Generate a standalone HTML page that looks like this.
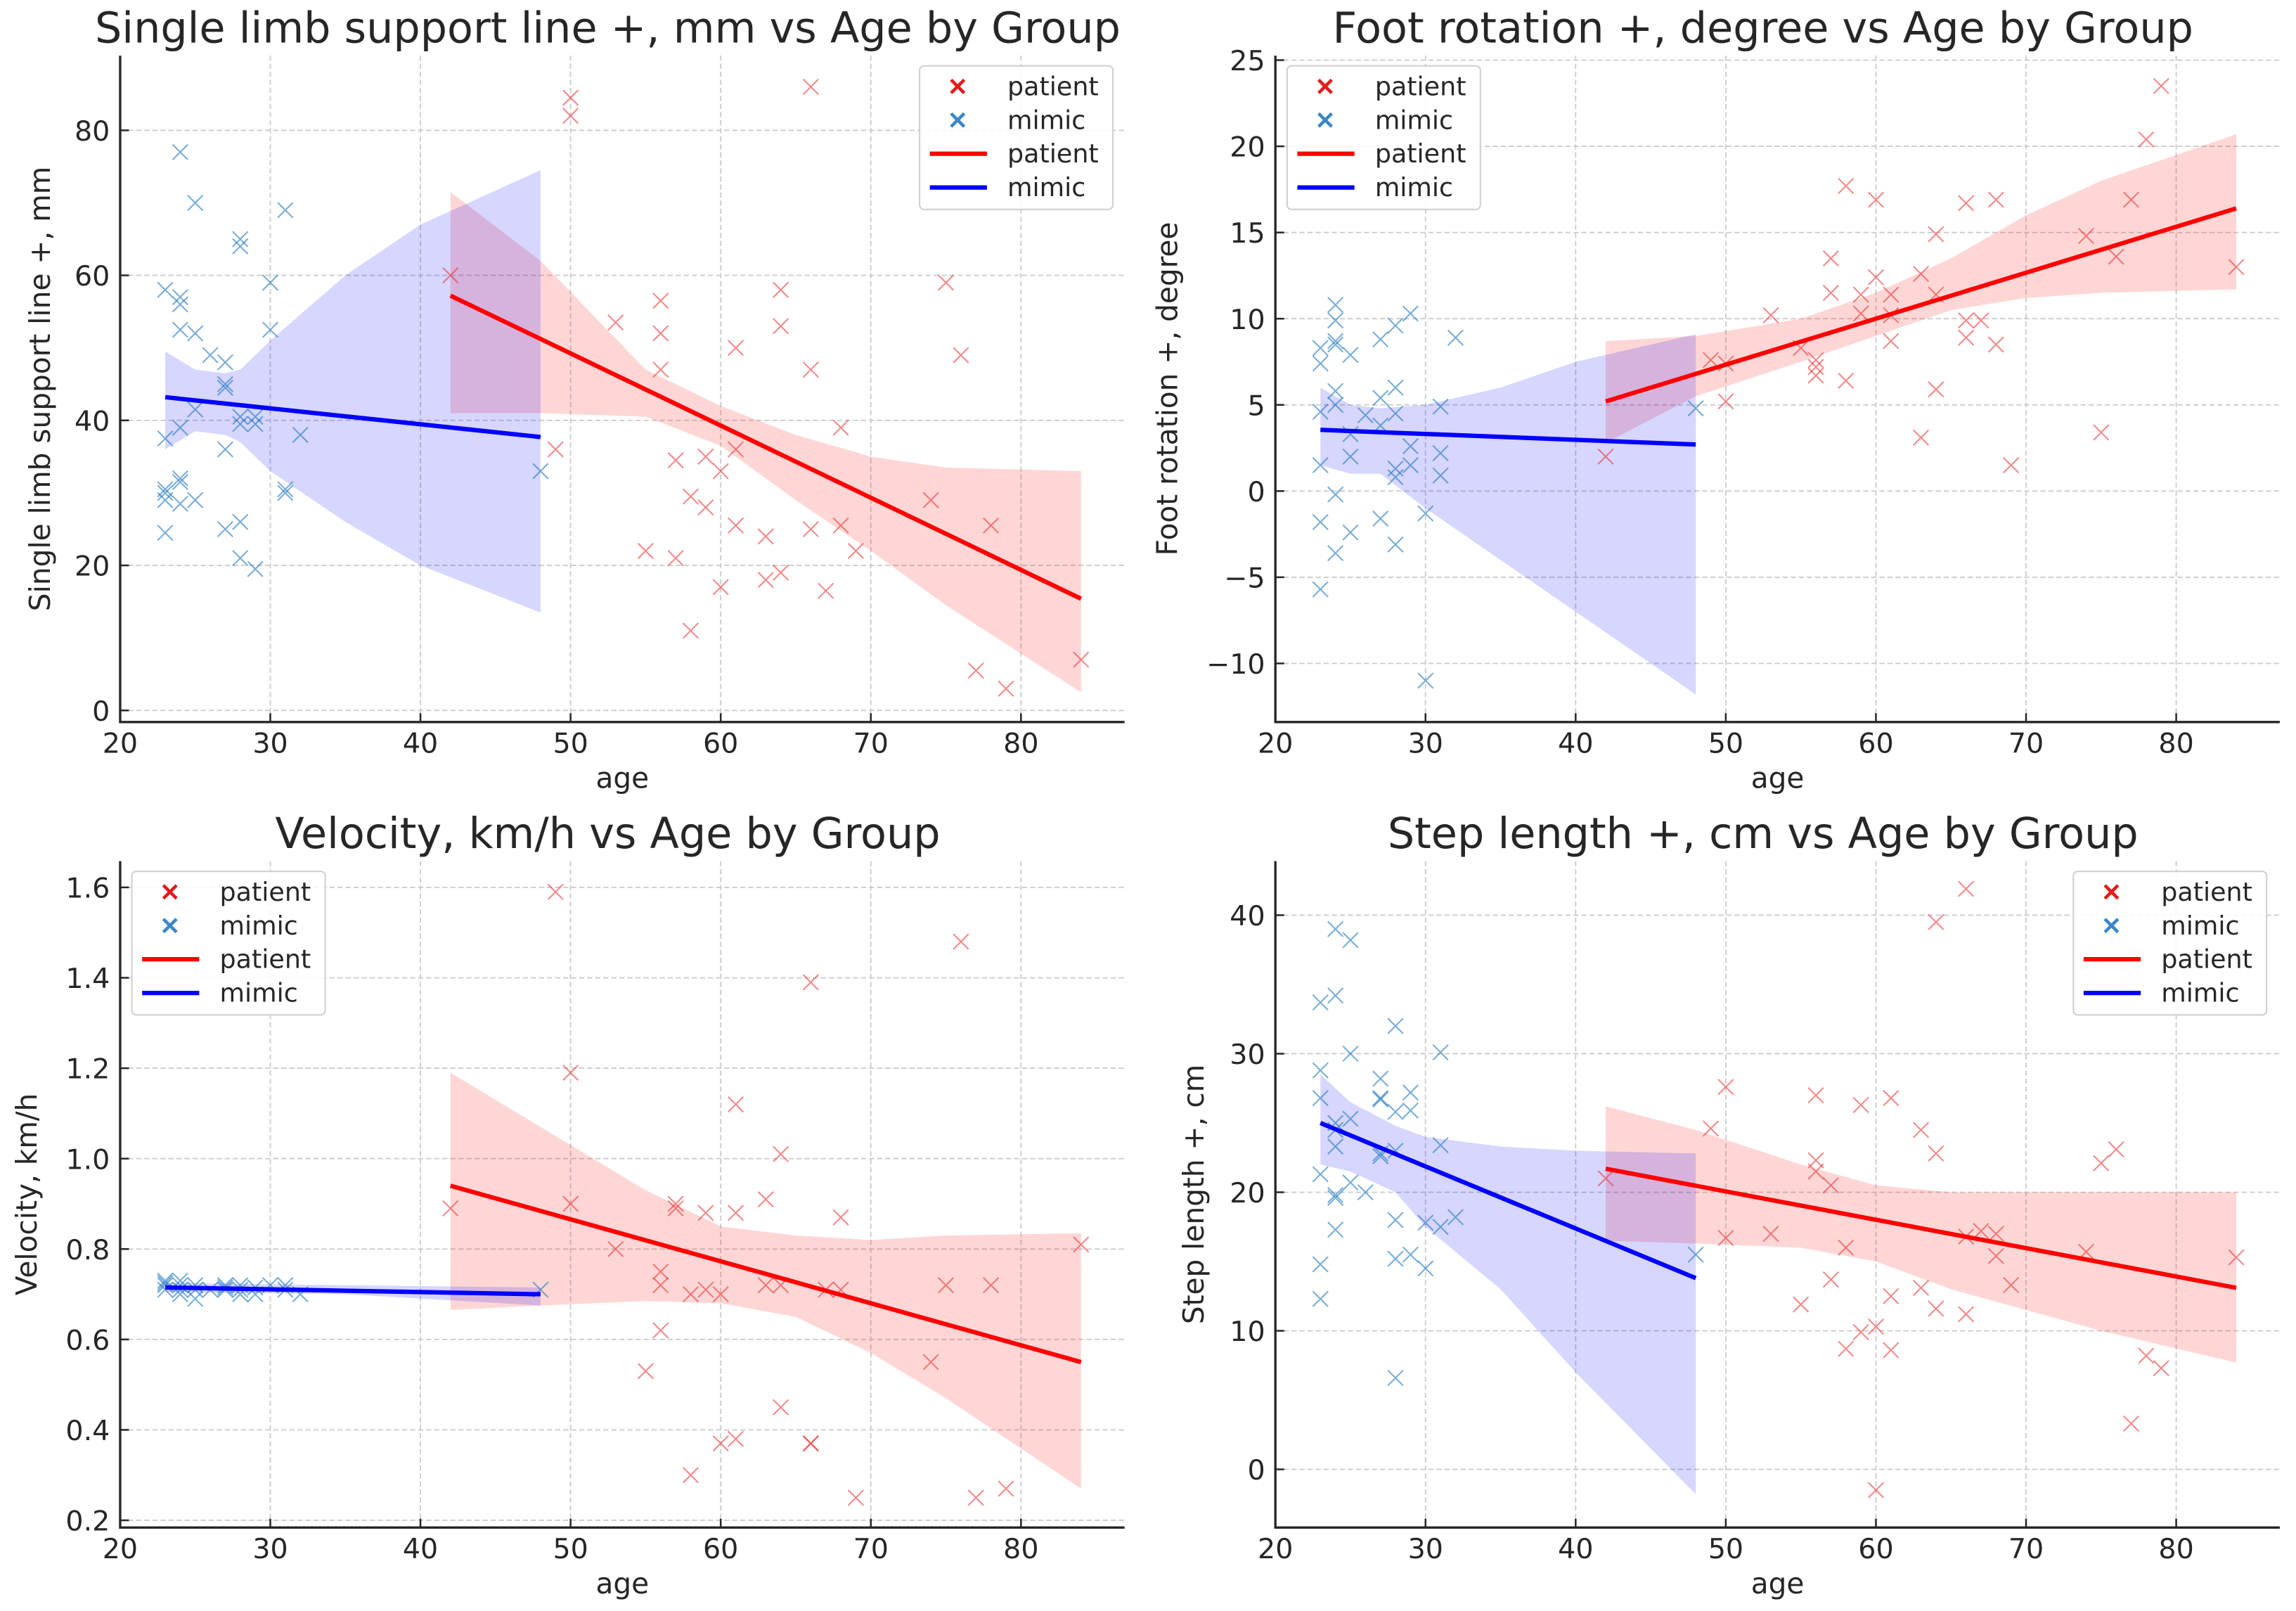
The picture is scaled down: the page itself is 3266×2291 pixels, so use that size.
<!DOCTYPE html>
<html><head><meta charset="utf-8"><style>
html,body{margin:0;padding:0;background:#fff}
svg{display:block}
text{font-family:"DejaVu Sans","Liberation Sans",sans-serif;fill:#262626}
</style></head><body>
<svg id="fig" width="3266" height="2291" viewBox="0 0 1568 1100" xmlns="http://www.w3.org/2000/svg"></svg>
<script>
// ---- Panel 1: Single limb support ----
const p1MimicAge=[23,23,23,23,23,23,24,24,24,24,24,24,24,24,25,25,25,25,26,27,27,27,27,27,28,28,28,28,28,28,29,29,29,30,30,31,31,31,32,48];
const p1MimicVal=[58,37.5,30.5,30,29,24.5,77,57,56,52.5,39,32,31.5,28.5,70,52,41.5,29,49,48,45,44.5,36,25,65,64,40.5,39.5,26,21,40.5,39.5,19.5,59,52.5,69,30.5,30,38,33];
const p1PatAge=[42,49,50,50,53,55,56,56,56,57,57,58,58,59,59,60,60,61,61,61,63,63,64,64,64,66,66,66,67,68,68,69,74,75,76,77,78,79,84];
const p1PatVal=[60,36,84.5,82,53.5,22,56.5,52,47,34.5,21,29.5,11,35,28,33,17,50,36,25.5,24,18,58,53,19,86,47,25,16.5,39,25.5,22,29,59,49,5.5,25.5,3,7];
const p1MimicFit=[[23,43.2],[48,37.7]];
const p1PatFit=[[42,57.2],[84,15.4]];
const p1MimicBandX=[23,25,27,28,30,35,40,48];
const p1MimicBandHi=[49.5,47,46.5,47,51,60,67,74.5];
const p1MimicBandLo=[36,38.5,38,37,33,26,20,13.5];
const p1PatBandX=[42,48,55,60,65,70,75,84];
const p1PatBandHi=[71.5,62,47,42,38,35,33.5,33];
const p1PatBandLo=[41,41,40.5,36.5,29,22,14.5,2.5];
const p1YTicks=[0,20,40,60,80];

// ---- Panel 2: Foot rotation ----
const p2MimicAge=[23,23,23,23,23,23,24,24,24,24,24,24,24,24,25,25,25,25,26,27,27,27,27,28,28,28,28,28,28,29,29,29,30,30,31,31,31,32,48];
const p2MimicVal=[8.3,7.4,4.6,1.5,-1.8,-5.7,10.8,9.9,8.7,8.5,5.8,5,-0.2,-3.6,7.9,3.3,2,-2.4,4.4,8.8,5.4,3.8,-1.6,9.6,6,4.5,1.3,0.8,-3.1,10.3,2.6,1.5,-1.3,-11,4.9,2.2,0.9,8.9,4.8];
const p2PatAge=[42,49,50,50,53,55,56,56,56,57,57,58,58,59,59,60,60,61,61,61,63,63,64,64,64,66,66,66,67,68,68,69,74,75,76,77,78,79,84];
const p2PatVal=[2,7.6,7.4,5.2,10.2,8.3,7.6,7.2,6.7,13.5,11.5,17.7,6.4,11.4,10.3,16.9,12.4,11.4,10.2,8.7,12.6,3.1,14.9,11.4,5.9,16.7,9.9,8.9,9.9,16.9,8.5,1.5,14.8,3.4,13.6,16.9,20.4,23.5,13];
const p2MimicFit=[[23,3.55],[48,2.7]];
const p2PatFit=[[42,5.2],[84,16.4]];
const p2MimicBandX=[23,25,27,30,35,40,48];
const p2MimicBandHi=[6,5,4.8,5,6,7.5,9.1];
const p2MimicBandLo=[1.5,1,1,-1,-4,-7,-11.8];
const p2PatBandX=[42,48,55,60,65,70,75,84];
const p2PatBandHi=[8.7,9,10,11.5,13.5,16,18,20.7];
const p2PatBandLo=[2.8,5.5,7.5,9,10.5,11.2,11.5,11.7];
const p2YTicks=[-10,-5,0,5,10,15,20,25];
const p2YLabels=["\u221210","\u22125","0","5","10","15","20","25"];

// ---- Panel 3: Velocity ----
const p3MimicAge=[23,23,23,23,24,24,24,24,25,25,25,26,27,27,27,28,28,28,29,29,30,31,31,32,48];
const p3MimicVal=[0.73,0.72,0.71,0.725,0.73,0.72,0.71,0.70,0.72,0.69,0.71,0.71,0.72,0.71,0.715,0.72,0.71,0.70,0.715,0.70,0.72,0.72,0.71,0.70,0.71];
const p3PatAge=[42,49,50,50,53,55,56,56,56,57,57,58,58,59,59,60,60,61,61,61,63,63,64,64,64,66,66,66,67,68,68,69,74,75,76,77,78,79,84];
const p3PatVal=[0.89,1.59,1.19,0.90,0.80,0.53,0.75,0.72,0.62,0.90,0.89,0.70,0.30,0.88,0.71,0.70,0.37,1.12,0.88,0.38,0.91,0.72,1.01,0.72,0.45,1.39,0.37,0.37,0.71,0.87,0.71,0.25,0.55,0.72,1.48,0.25,0.72,0.27,0.81];
const p3MimicFit=[[23,0.715],[48,0.70]];
const p3PatFit=[[42,0.94],[84,0.55]];
const p3MimicBandX=[23,35,48];
const p3MimicBandHi=[0.725,0.72,0.715];
const p3MimicBandLo=[0.705,0.70,0.675];
const p3PatBandX=[42,48,55,60,65,70,75,84];
const p3PatBandHi=[1.19,1.07,0.93,0.85,0.83,0.82,0.83,0.835];
const p3PatBandLo=[0.665,0.675,0.685,0.68,0.65,0.57,0.47,0.27];
const p3YTicks=[0.2,0.4,0.6,0.8,1.0,1.2,1.4,1.6];
const p3YLabels=["0.2","0.4","0.6","0.8","1.0","1.2","1.4","1.6"];

// ---- Panel 4: Step length ----
const p4MimicAge=[23,23,23,23,23,23,24,24,24,24,24,24,24,24,25,25,25,25,26,27,27,27,27,27,28,28,28,28,28,28,29,29,29,30,30,31,31,31,32,48];
const p4MimicVal=[33.7,28.8,26.8,21.3,14.8,12.3,39,34.2,25,24.5,23.3,19.8,19.6,17.3,38.2,30,25.3,20.7,20,28.2,26.7,26.8,22.8,22.6,32,25.8,23,18,15.2,6.6,27.2,25.9,15.5,17.8,14.5,30.1,23.4,17.5,18.2,15.5];
const p4PatAge=[42,49,50,50,53,55,56,56,56,57,57,58,58,59,59,60,60,61,61,61,63,63,64,64,64,66,66,66,67,68,68,69,74,75,76,77,78,79,84];
const p4PatVal=[21,24.6,27.6,16.7,17,11.9,27,22.3,21.5,20.5,13.7,16,8.7,26.3,9.9,10.3,-1.5,26.8,12.5,8.6,24.5,13.1,39.5,22.8,11.6,41.9,16.8,11.2,17.2,17,15.4,13.3,15.7,22.1,23.1,3.3,8.2,7.3,15.3];
const p4MimicFit=[[23,25],[48,13.8]];
const p4PatFit=[[42,21.7],[84,13.1]];
const p4MimicBandX=[23,25,28,30,35,40,48];
const p4MimicBandHi=[28.5,26.5,24.8,24,23.3,23,22.8];
const p4MimicBandLo=[22,21.5,20,17.5,13,7,-1.8];
const p4PatBandX=[42,48,55,60,65,70,75,84];
const p4PatBandHi=[26.2,24.5,22,20.5,20,20,20,20];
const p4PatBandLo=[16.5,16.3,16,15,13,11.5,10,7.7];
const p4YTicks=[0,10,20,30,40];

const xTicks=[20,30,40,50,60,70,80];

const NS="http://www.w3.org/2000/svg";
const svg=document.getElementById('fig');
function mk(tag,parent){const e=document.createElementNS(NS,tag);parent.appendChild(e);return e;}

function panel(cfg){
  const g=mk('g',svg);
  
  
  const L=cfg.L,R=cfg.R,T=cfg.T,B=cfg.B;
  const sx=v=>L+(v-20)*(R-L)/(86.9-20);
  const sy=v=>B-(v-cfg.ymin)*(B-T)/(cfg.ymax-cfg.ymin);
  const grid=mk('g',g);
  
  
  xTicks.forEach(t=>{const l=mk('line',grid);l.setAttribute('x1',sx(t));l.setAttribute('x2',sx(t));l.setAttribute('y1',T);l.setAttribute('y2',B);l.setAttribute('stroke','#cccccc');l.setAttribute('stroke-width','0.9');l.setAttribute('stroke-dasharray','3.5,2');});
  cfg.yt.forEach(t=>{const l=mk('line',grid);l.setAttribute('x1',L);l.setAttribute('x2',R);l.setAttribute('y1',sy(t));l.setAttribute('y2',sy(t));l.setAttribute('stroke','#cccccc');l.setAttribute('stroke-width','0.9');l.setAttribute('stroke-dasharray','3.5,2');});
  function band(xs,hi,lo,col,nm){
    let d='M'+xs.map((x,i)=>sx(x)+','+sy(hi[i])).join(' L');
    for(let i=xs.length-1;i>=0;i--) d+=' L'+sx(xs[i])+','+sy(lo[i]);
    const p=mk('path',g);p.setAttribute('d',d+' Z');p.setAttribute('fill',col);
    
    
  }
  band(cfg.pbx,cfg.pbh,cfg.pbl,'rgba(255,0,0,0.16)','patient-ci-band');
  band(cfg.mbx,cfg.mbh,cfg.mbl,'rgba(0,0,255,0.16)','mimic-ci-band');
  function pts(ax,vals,col,nm){
    const pg=mk('g',g);
    
    
    ax.forEach((a,i)=>{const x=sx(a),y=sy(vals[i]),s=5.2;
      const p=mk('path',pg);p.setAttribute('d',`M${x-s},${y-s} L${x+s},${y+s} M${x-s},${y+s} L${x+s},${y-s}`);
      p.setAttribute('stroke',col);p.setAttribute('stroke-width','1');p.setAttribute('fill','none');
      
      });
  }
  pts(cfg.ma,cfg.mv,'rgba(31,119,190,0.6)','mimic-points');
  pts(cfg.pa,cfg.pv,'rgba(235,40,40,0.55)','patient-points');
  function fit(f,col,nm){const l=mk('line',g);l.setAttribute('x1',sx(f[0][0]));l.setAttribute('y1',sy(f[0][1]));l.setAttribute('x2',sx(f[1][0]));l.setAttribute('y2',sy(f[1][1]));l.setAttribute('stroke',col);l.setAttribute('stroke-width','3');
    
    }
  fit(cfg.pf,'#ff0000','patient-fit-line');
  fit(cfg.mf,'#0000ff','mimic-fit-line');
  const ax=mk('path',g);ax.setAttribute('d',`M${L},${T} L${L},${B} L${R},${B}`);ax.setAttribute('stroke','#262626');ax.setAttribute('stroke-width','1.6');ax.setAttribute('fill','none');
  
  
  xTicks.forEach(t=>{const l=mk('line',g);l.setAttribute('x1',sx(t));l.setAttribute('x2',sx(t));l.setAttribute('y1',B);l.setAttribute('y2',B-6);l.setAttribute('stroke','#262626');l.setAttribute('stroke-width','1.2');
    const tx=mk('text',g);tx.setAttribute('x',sx(t));tx.setAttribute('y',B+21);tx.setAttribute('text-anchor','middle');tx.setAttribute('font-size','19');tx.textContent=t;
    
    });
  cfg.yt.forEach((t,i)=>{const l=mk('line',g);l.setAttribute('x1',L);l.setAttribute('x2',L+6);l.setAttribute('y1',sy(t));l.setAttribute('y2',sy(t));l.setAttribute('stroke','#262626');l.setAttribute('stroke-width','1.2');
    const tx=mk('text',g);tx.setAttribute('x',L-7);tx.setAttribute('y',sy(t)+7);tx.setAttribute('text-anchor','end');tx.setAttribute('font-size','19');tx.textContent=cfg.yl?cfg.yl[i]:t;
    
    });
  const xl=mk('text',g);xl.setAttribute('x',(L+R)/2);xl.setAttribute('y',B+45);xl.setAttribute('text-anchor','middle');xl.setAttribute('font-size','19.5');xl.textContent='age';
  
  
  const yl=mk('text',g);yl.setAttribute('transform',`translate(${cfg.ylx},${(T+B)/2}) rotate(-90)`);yl.setAttribute('text-anchor','middle');yl.setAttribute('font-size','19.5');yl.textContent=cfg.ytitle;
  
  
  const tt=mk('text',g);tt.setAttribute('x',(L+R)/2-10);tt.setAttribute('y',T-9);tt.setAttribute('text-anchor','middle');tt.setAttribute('font-size','29');tt.textContent=cfg.title;
  
  
  const lg=mk('g',g);
  
  
  const bx=cfg.lx,by=T+7;
  const r=mk('rect',lg);r.setAttribute('x',bx);r.setAttribute('y',by);r.setAttribute('width',132);r.setAttribute('height',98);r.setAttribute('rx',3);r.setAttribute('fill','rgba(255,255,255,0.85)');r.setAttribute('stroke','#d0d0d0');r.setAttribute('stroke-width','1');
  const entries=[['x','#e31a1c','patient'],['x','#3a87c8','mimic'],['l','#ff0000','patient'],['l','#0000ff','mimic']];
  entries.forEach((e,i)=>{const y=by+14+i*23;
    if(e[0]=='x'){const p=mk('path',lg);const x=bx+26,s=4.5;p.setAttribute('d',`M${x-s},${y-s} L${x+s},${y+s} M${x-s},${y+s} L${x+s},${y-s}`);p.setAttribute('stroke',e[1]);p.setAttribute('stroke-width','2.2');}
    else{const l=mk('line',lg);l.setAttribute('x1',bx+7);l.setAttribute('x2',bx+46);l.setAttribute('y1',y);l.setAttribute('y2',y);l.setAttribute('stroke',e[1]);l.setAttribute('stroke-width','3');}
    const t=mk('text',lg);t.setAttribute('x',bx+60);t.setAttribute('y',y+6);t.setAttribute('font-size','17.5');t.textContent=e[2];
    
    });
}

panel({name:'panel-single-limb-support',L:82,R:768,T:38,B:493,ymin:-1.6,ymax:90.3,yt:p1YTicks,
  ma:p1MimicAge,mv:p1MimicVal,pa:p1PatAge,pv:p1PatVal,mf:p1MimicFit,pf:p1PatFit,
  mbx:p1MimicBandX,mbh:p1MimicBandHi,mbl:p1MimicBandLo,pbx:p1PatBandX,pbh:p1PatBandHi,pbl:p1PatBandLo,
  ylx:34,ytitle:'Single limb support line +, mm',title:'Single limb support line +, mm vs Age by Group',lx:628});
panel({name:'panel-foot-rotation',L:871,R:1557,T:38,B:493,ymin:-13.4,ymax:25.26,yt:p2YTicks,yl:p2YLabels,
  ma:p2MimicAge,mv:p2MimicVal,pa:p2PatAge,pv:p2PatVal,mf:p2MimicFit,pf:p2PatFit,
  mbx:p2MimicBandX,mbh:p2MimicBandHi,mbl:p2MimicBandLo,pbx:p2PatBandX,pbh:p2PatBandHi,pbl:p2PatBandLo,
  ylx:804,ytitle:'Foot rotation +, degree',title:'Foot rotation +, degree vs Age by Group',lx:879});
panel({name:'panel-velocity',L:82,R:768,T:588,B:1043,ymin:0.184,ymax:1.658,yt:p3YTicks,yl:p3YLabels,
  ma:p3MimicAge,mv:p3MimicVal,pa:p3PatAge,pv:p3PatVal,mf:p3MimicFit,pf:p3PatFit,
  mbx:p3MimicBandX,mbh:p3MimicBandHi,mbl:p3MimicBandLo,pbx:p3PatBandX,pbh:p3PatBandHi,pbl:p3PatBandLo,
  ylx:25,ytitle:'Velocity, km/h',title:'Velocity, km/h vs Age by Group',lx:90});
panel({name:'panel-step-length',L:871,R:1557,T:588,B:1043,ymin:-4.2,ymax:43.9,yt:p4YTicks,
  ma:p4MimicAge,mv:p4MimicVal,pa:p4PatAge,pv:p4PatVal,mf:p4MimicFit,pf:p4PatFit,
  mbx:p4MimicBandX,mbh:p4MimicBandHi,mbl:p4MimicBandLo,pbx:p4PatBandX,pbh:p4PatBandHi,pbl:p4PatBandLo,
  ylx:822,ytitle:'Step length +, cm',title:'Step length +, cm vs Age by Group',lx:1416});
</script>
</body></html>
